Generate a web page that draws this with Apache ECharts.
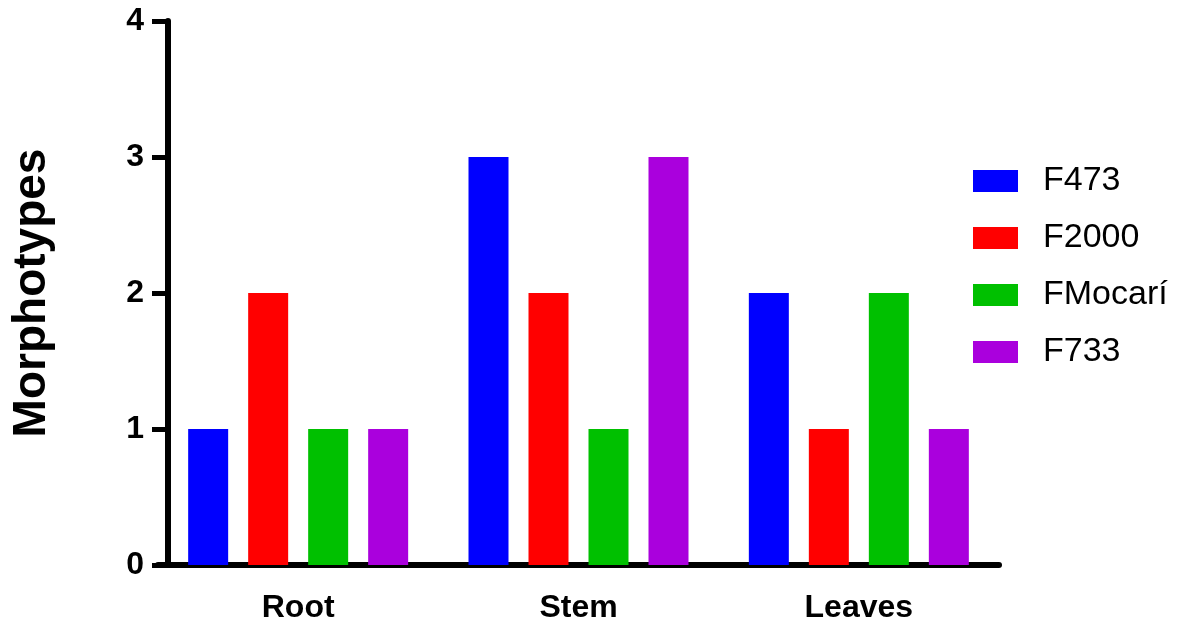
<!DOCTYPE html>
<html>
<head>
<meta charset="utf-8">
<script src="https://cdn.jsdelivr.net/npm/echarts@6/dist/echarts.min.js"></script>
<style>html,body{margin:0;padding:0;background:#fff;}#c{width:1184px;height:624px;}</style>
</head>
<body>
<div id="c"></div>
<script>
const categories = ['Root', 'Stem', 'Leaves'];
const seriesNames = ['F473', 'F2000', 'FMocarí', 'F733'];
const F473 = [1, 3, 2];
const F2000 = [2, 2, 1];
const FMocari = [1, 1, 2];
const F733 = [1, 3, 1];
const yTicks = [0, 1, 2, 3, 4];
const colors = ['#0000FF', '#FF0000', '#00C000', '#AA00DD'];

const seriesData = [F473, F2000, FMocari, F733];
const FONT = '"Liberation Sans", Arial, sans-serif';

const chart = echarts.init(document.getElementById('c'), null, {renderer: 'canvas'});
chart.setOption({
  animation: false,
  backgroundColor: '#fff',
  grid: {left: 158, right: 185, top: 21, bottom: 58, containLabel: false},
  legend: {
    orient: 'vertical',
    left: 973,
    top: 164,
    padding: 0,
    itemWidth: 45,
    itemHeight: 22,
    itemGap: 23,
    icon: 'rect',
    textStyle: {fontFamily: FONT, fontSize: 34, color: '#000', padding: [0, 0, 0, 20]},
    data: seriesNames
  },
  xAxis: {
    type: 'category',
    data: categories,
    axisLine: {lineStyle: {color: '#000', width: 6}},
    axisTick: {alignWithLabel: true, length: 16, lineStyle: {color: '#000', width: 5}},
    axisLabel: {fontFamily: FONT, fontWeight: 'bold', fontSize: 32, color: '#000', margin: 27},
    splitLine: {show: false}
  },
  yAxis: {
    type: 'value',
    min: 0, max: 4, interval: 1,
    offset: -10,
    name: 'Morphotypes',
    nameLocation: 'middle',
    nameGap: 113,
    nameTextStyle: {fontFamily: FONT, fontWeight: 'bold', fontSize: 46, color: '#000'},
    axisLine: {show: true, lineStyle: {color: '#000', width: 6}},
    axisTick: {show: true, length: 16, lineStyle: {color: '#000', width: 5}},
    axisLabel: {fontFamily: FONT, fontWeight: 'bold', fontSize: 32, color: '#000', margin: 24,
      formatter: v => yTicks.includes(v) ? String(v) : ''},
    splitLine: {show: false}
  },
  series: seriesNames.map((n, i) => ({
    name: n,
    type: 'bar',
    data: seriesData[i],
    barWidth: 40,
    barGap: '50%',
    itemStyle: {color: colors[i]}
  }))
});
</script>
</body>
</html>
